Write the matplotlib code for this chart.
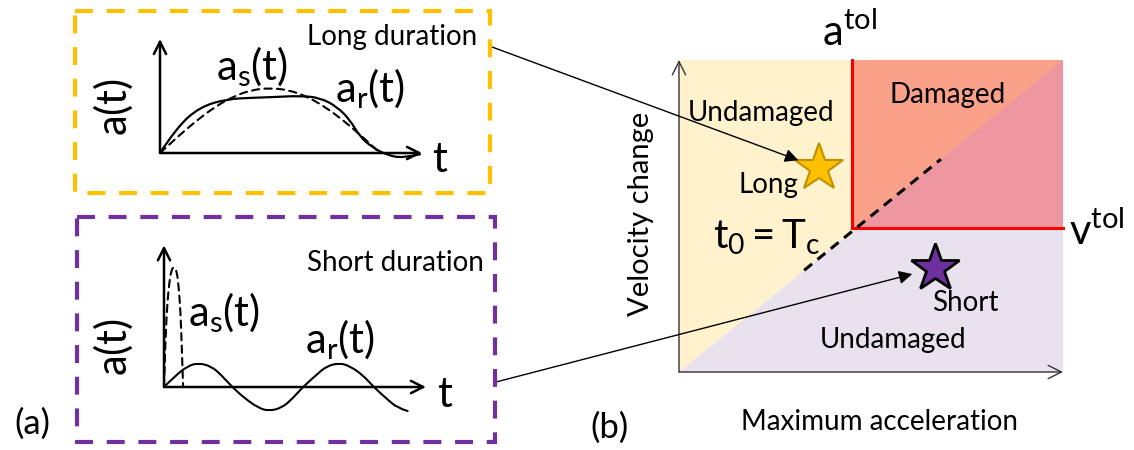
import matplotlib
matplotlib.use("Agg")
import matplotlib.pyplot as plt
from matplotlib.patches import Rectangle, PathPatch
from matplotlib.path import Path

# --- data -------------------------------------------------------------
# (a) long-duration pulse: smooth target a_s(t) and recorded a_r(t)
long_ts = [0, .07, .14, .21, .28, .35, .42, .49, .56, .63, .70, .77, .84]
long_as = [0, .26, .50, .71, .87, .97, 1.0, .97, .87, .71, .50, .26, 0]
long_tr = [0, .065, .153, .256, .355, .431, .534, .611, .676, .725,
           .763, .813, .866, .927, .992]
long_ar = [0, .40, .71, .83, .85, .86, .88, .85, .71, .51,
           .25, .08, -.03, -.08, -.02]

# (a) short-duration pulse: narrow spike a_s(t), oscillating a_r(t)
short_ts = [0, .006, .013, .020, .028, .038, .048, .056, .063, .068, .073]
short_as = [0, .80, 1.30, 1.60, 1.80, 1.85, 1.80, 1.55, 1.15, .60, 0]
short_tr = [0, .045, .09, .13, .18, .22, .26, .31, .36, .40, .45, .49,
            .53, .58, .62, .67, .71, .76, .80, .85, .89, .93]
short_ar = [0, .18, .32, .37, .32, .18, 0, -.18, -.32, -.37, -.32, -.18,
            0, .18, .32, .37, .32, .18, 0, -.18, -.32, -.37]

# (b) damage map in normalised (max acceleration, velocity change)
a_tol = 0.45
v_tol = 0.46
t0_line = [0.326, 0.682]          # extent of the t0 = Tc boundary (y = x)
long_pt = (0.365, 0.654)
short_pt = (0.667, 0.333)

W, H = 1134, 450

plt.rcParams["font.family"] = ["Lato", "DejaVu Sans"]
plt.rcParams["mathtext.fontset"] = "custom"
plt.rcParams["mathtext.rm"] = "Lato"
plt.rcParams["mathtext.it"] = "Lato"
plt.rcParams["mathtext.bf"] = "Lato:bold"
plt.rcParams["mathtext.default"] = "rm"

fig = plt.figure(figsize=(W / 100, H / 100), dpi=100)


def px_axes(left, top, right, bottom):
    ax = fig.add_axes([left / W, 1 - bottom / H, (right - left) / W,
                       (bottom - top) / H])
    ax.set_axis_off()
    ax.patch.set_alpha(0)
    return ax


def inset(x0, y0, sx, sy, xlim, ylim):
    # origin (x0, y0) in pixels, sx/sy pixels per data unit
    ax = px_axes(x0 + xlim[0] * sx, y0 - ylim[1] * sy,
                 x0 + xlim[1] * sx, y0 - ylim[0] * sy)
    ax.set_xlim(xlim)
    ax.set_ylim(ylim)
    return ax


def smooth(ax, xs, ys, **kw):
    # quadratic bezier through the midpoints of the sampled points
    verts = [(xs[0], ys[0])]
    codes = [Path.MOVETO]
    n = len(xs)
    for i in range(1, n - 1):
        if i == n - 2:
            end = (xs[-1], ys[-1])
        else:
            end = ((xs[i] + xs[i + 1]) / 2, (ys[i] + ys[i + 1]) / 2)
        verts += [(xs[i], ys[i]), end]
        codes += [Path.CURVE3, Path.CURVE3]
    ax.add_patch(PathPatch(Path(verts, codes), fill=False, clip_on=False,
                           capstyle="round", joinstyle="round", **kw))


def axis_arrows(ax, xend, yend, lw=1.8, ms=22, color="k"):
    props = dict(arrowstyle="->", lw=lw, color=color, mutation_scale=ms,
                 shrinkA=0, shrinkB=0)
    ax.annotate("", xy=(0, yend), xytext=(0, 0), arrowprops=props,
                annotation_clip=False)
    ax.annotate("", xy=(xend, 0), xytext=(0, 0), arrowprops=props,
                annotation_clip=False)


MATH = 30

# --- (a) top: long duration ------------------------------------------
ax1 = inset(160, 153, 262, 65, (-0.25, 1.15), (-0.3, 1.9))
axis_arrows(ax1, 1.0, 1.754)
smooth(ax1, long_ts, long_as, lw=1.5, color="k", linestyle=(0, (3.5, 2.5)))
smooth(ax1, long_tr, long_ar, lw=1.6, color="k")
ax1.text(-0.179, 0.708, "$a(t)$", rotation=90, fontsize=MATH,
         ha="center", va="center")
ax1.text(0.351, 1.32, "$a_s(t)$", fontsize=MATH, ha="center", va="center")
ax1.text(0.80, 0.98, "$a_r(t)$", fontsize=MATH, ha="center", va="center")
ax1.text(1.069, -0.11, "$t$", fontsize=MATH, ha="center", va="center")
ax1.text(0.886, 1.785, "Long duration", fontsize=20, ha="center",
         va="center")

# --- (a) bottom: short duration --------------------------------------
ax2 = inset(164, 387, 262, 65, (-0.25, 1.15), (-0.6, 2.4))
axis_arrows(ax2, 1.0, 2.18)
smooth(ax2, short_ts, short_as, lw=1.5, color="k",
       linestyle=(0, (3.5, 2.5)))
smooth(ax2, short_tr, short_ar, lw=1.5, color="k")
ax2.text(-0.195, 0.615, "$a(t)$", rotation=90, fontsize=MATH,
         ha="center", va="center")
ax2.text(0.229, 1.14, "$a_s(t)$", fontsize=MATH, ha="center", va="center")
ax2.text(0.672, 0.72, "$a_r(t)$", fontsize=MATH, ha="center", va="center")
ax2.text(1.072, -0.12, "$t$", fontsize=MATH, ha="center", va="center")
ax2.text(0.882, 1.91, "Short duration", fontsize=20, ha="center",
         va="center")

# --- (b) damage map ---------------------------------------------------
axr = px_axes(679, 60, 1063, 372)
axr.set_xlim(0, 1)
axr.set_ylim(0, 1)
axr.fill([0, 0, 1], [0, 1, 1], color="#FFF2CC", lw=0)
axr.fill([0, 1, 1], [0, 0, 1], color="#EAE1EF", lw=0)
axr.add_patch(Rectangle((a_tol, v_tol), 1 - a_tol, 1 - v_tol,
                        color="#F52223", alpha=0.39, lw=0))
axr.plot([a_tol, a_tol, 1], [1, v_tol, v_tol], color="#FF0000", lw=2.2,
         solid_joinstyle="miter", clip_on=False)
axr.plot(t0_line, t0_line, color="k", lw=2.2,
         linestyle=(0, (3.3, 2.3)))
axis_arrows(axr, 1.0, 1.0, lw=1.0, ms=24, color="#333333")

axr.plot(*long_pt, marker="*", ms=36, mfc="#FFC000", mec="#BF9000",
         mew=1.5, clip_on=False)
axr.plot(*short_pt, marker="*", ms=36, mfc="#7030A0", mec="k",
         mew=2, clip_on=False)

LBL = 20
axr.text(0.445, 1.087, "$a^{tol}$", fontsize=30, ha="center", va="center")
axr.text(1.089, 0.449, "$v^{tol}$", fontsize=30, ha="center", va="center")
axr.text(0.70, 0.888, "Damaged", fontsize=LBL, ha="center", va="center")
axr.text(0.214, 0.830, "Undamaged", fontsize=LBL, ha="center", va="center")
axr.text(0.234, 0.599, "Long", fontsize=LBL, ha="center", va="center")
axr.text(0.229, 0.433, "$t_0 = T_c$", fontsize=29, ha="center",
         va="center")
axr.text(0.745, 0.221, "Short", fontsize=LBL, ha="center", va="center")
axr.text(0.557, 0.103, "Undamaged", fontsize=LBL, ha="center",
         va="center")
axr.text(-0.10, 0.506, "Velocity change", fontsize=21, rotation=90,
         ha="center", va="center")
axr.text(0.521, -0.16, "Maximum acceleration", fontsize=20, ha="center",
         va="center")

# --- frames, labels and connectors (pixel coordinates) ----------------
axo = px_axes(0, 0, W, H)
axo.set_xlim(0, W)
axo.set_ylim(H, 0)
axo.add_patch(Rectangle((75, 11), 415, 182, fill=False, ec="#FFC000",
                        lw=3, linestyle=(0, (4.3, 3.3))))
axo.add_patch(Rectangle((77, 217), 418, 225, fill=False, ec="#7030A0",
                        lw=3, linestyle=(0, (4.3, 3.3))))
axo.text(32, 424, "(a)", fontsize=25, ha="center", va="center")
axo.text(610, 428, "(b)", fontsize=25, ha="center", va="center")

link = dict(arrowstyle="-|>", lw=1.0, color="k", mutation_scale=20,
            shrinkA=0)
axr.annotate("", xy=long_pt, xytext=(492, 47), textcoords=axo.transData,
             arrowprops=dict(link, shrinkB=16), annotation_clip=False)
axr.annotate("", xy=short_pt, xytext=(496, 382), textcoords=axo.transData,
             arrowprops=dict(link, shrinkB=17), annotation_clip=False)

fig.savefig("out.png", dpi=100)
